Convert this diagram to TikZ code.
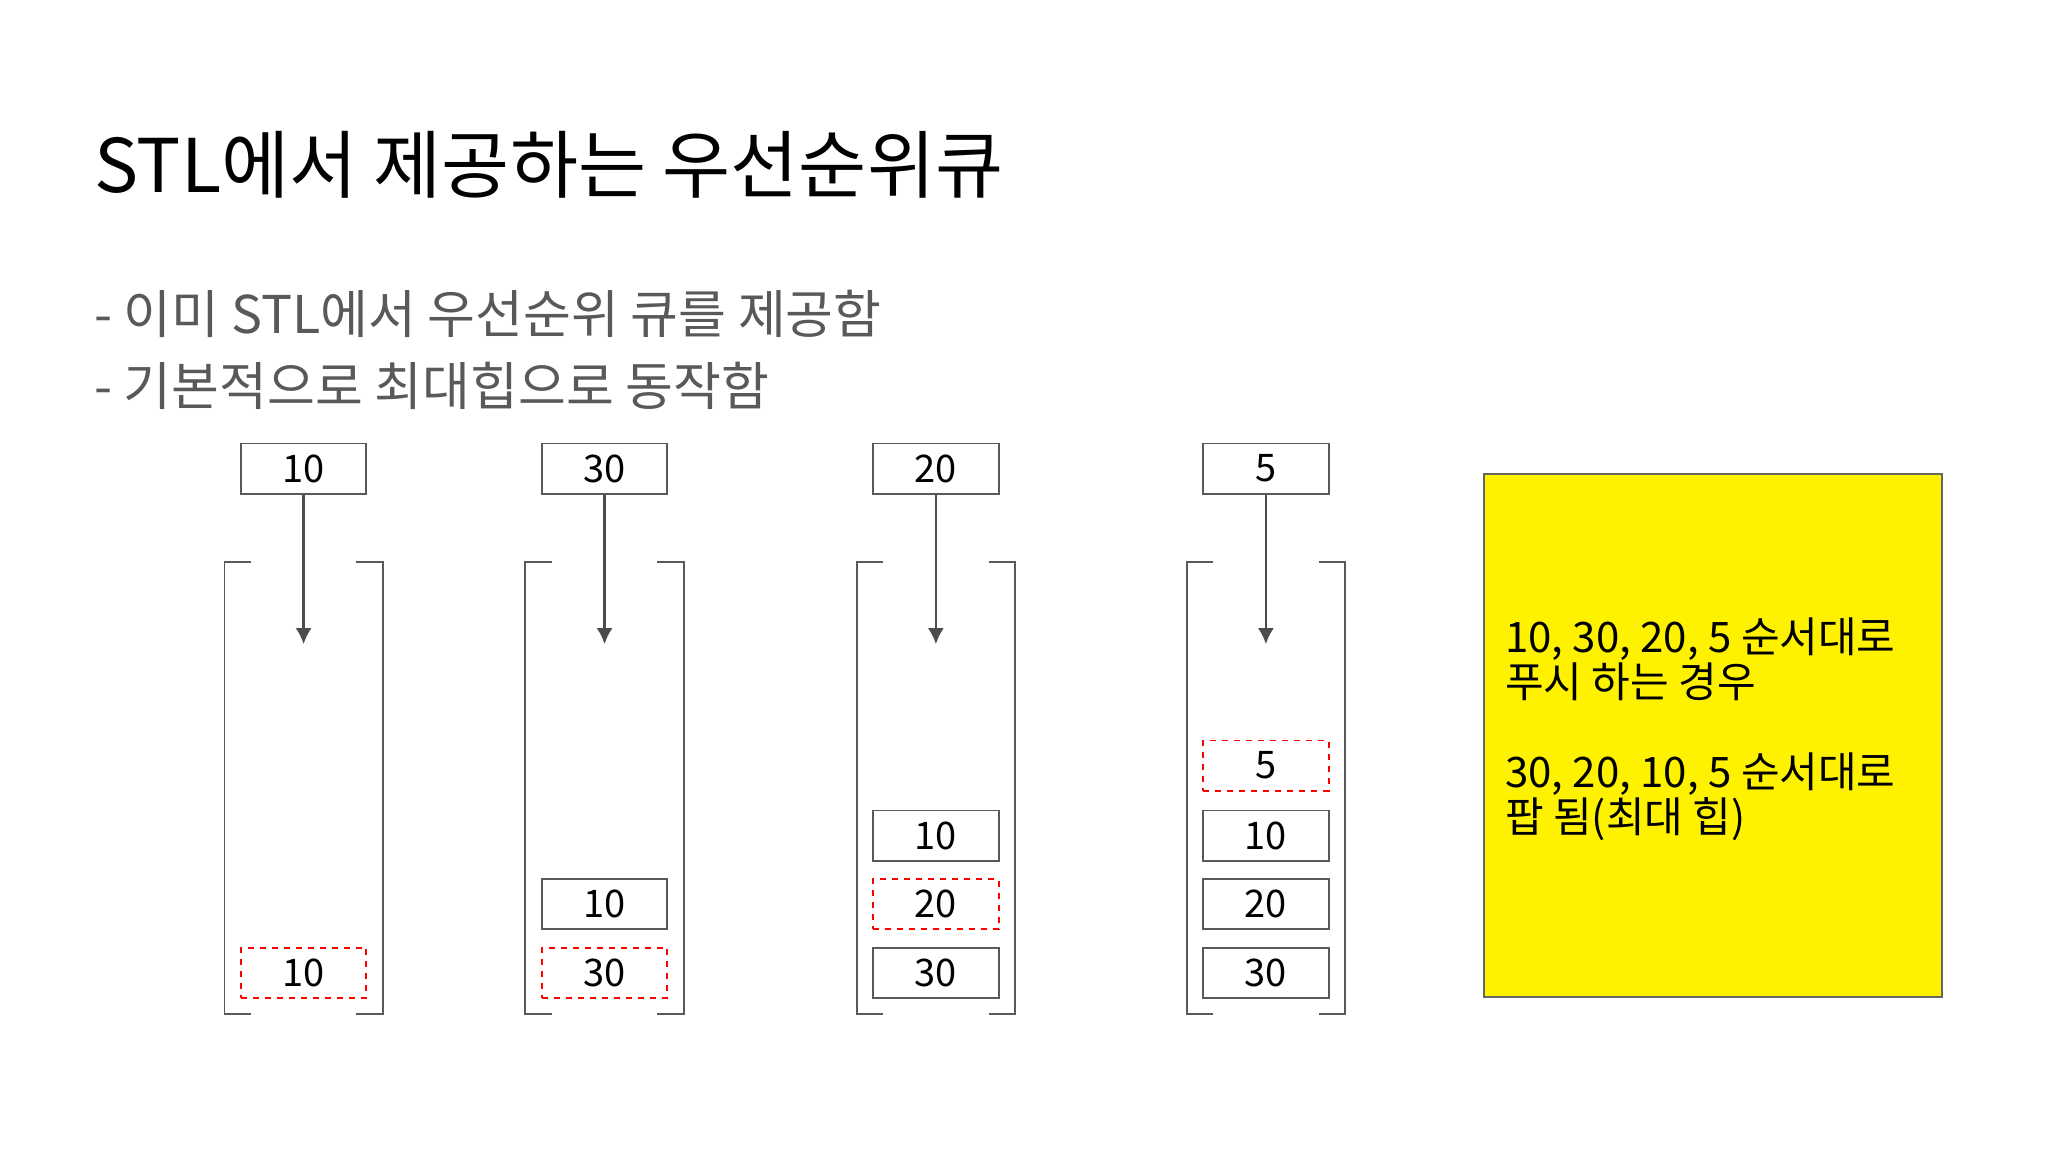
\documentclass[tikz,border=0pt]{standalone}
\usepackage{fontspec}
\setmainfont{Noto Sans CJK KR}
\begin{document}
\begin{tikzpicture}[x=0.66pt,y=-0.66pt,
  cell/.style={draw=black!65,line width=0.9pt,minimum width=95*0.66pt,minimum height=38*0.66pt,inner sep=0pt,font=\fontsize{19}{22}\selectfont},
  newcell/.style={cell,draw=red,dashed},
  br/.style={draw=black!65,line width=0.9pt},
  arr/.style={draw=black!70,line width=1.2pt,-{Latex[length=8pt,width=8pt]}}]
\usetikzlibrary{arrows.meta}
\useasboundingbox (0,0) rectangle (1551.5,872.7);
\node[anchor=west,font=\fontsize{37}{44}\selectfont] (title) at (66,125) {STL에서 제공하는 우선순위큐};
\node[anchor=west,font=\fontsize{26}{32}\selectfont,text=black!65] (b1) at (66,238) {- 이미 STL에서 우선순위 큐를 제공함};
\node[anchor=west,font=\fontsize{26}{32}\selectfont,text=black!65] (b2) at (66,292) {- 기본적으로 최대힙으로 동작함};
\foreach \c/\v [count=\i] in {230/10,458/30,709/20,959/5}{
  \node[cell] (in\i) at (\c,355) {\v};
  \coordinate (tip\i) at (\c,488);
  \draw[arr] (in\i) -- (tip\i);
  \draw[br] (\c-40,426) -| (\c-60,768) -- (\c-40,768);
  \draw[br] (\c+40,426) -| (\c+60,768) -- (\c+40,768);
}
\node[newcell] (s11) at (230,737) {10};
\node[newcell] (s21) at (458,737) {30};
\node[cell] (s22) at (458,685) {10};
\node[cell] (s31) at (709,737) {30};
\node[newcell] (s32) at (709,685) {20};
\node[cell] (s33) at (709,633) {10};
\node[cell] (s41) at (959,737) {30};
\node[cell] (s42) at (959,685) {20};
\node[cell] (s43) at (959,633) {10};
\node[newcell] (s44) at (959,580) {5};
\fill[yellow,draw=black!60,line width=0.9pt] (1124,359) rectangle (1471,755);
\node[anchor=north west,align=left,inner sep=0pt,font=\fontsize{21}{22.5}\selectfont] (note) at (1140,468)
 {10, 30, 20, 5 순서대로\\푸시 하는 경우\\[22.5pt]30, 20, 10, 5 순서대로\\팝 됨(최대 힙)};
\end{tikzpicture}
\end{document}
